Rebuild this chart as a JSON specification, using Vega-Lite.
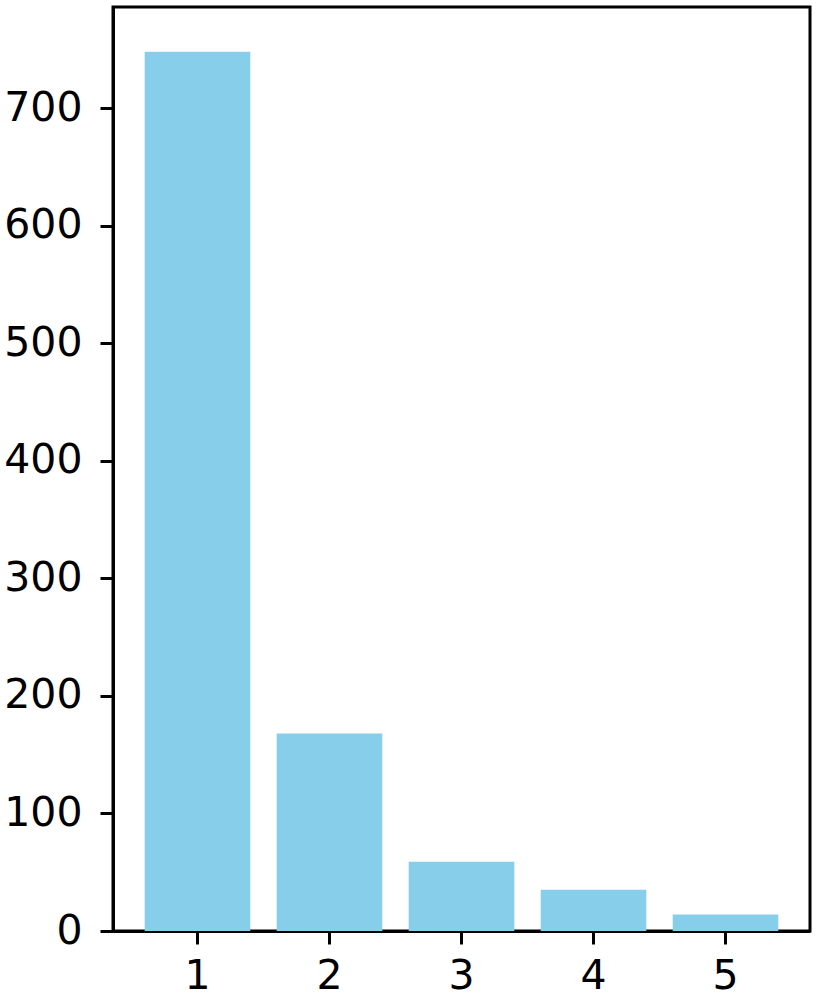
{
  "$schema": "https://vega.github.io/schema/vega-lite/v6.json",
  "width": 697,
  "height": 924,
  "autosize": {"type": "none"},
  "padding": {"left": 113, "top": 7, "right": 7, "bottom": 71},
  "background": "white",
  "config": {
    "view": {"stroke": "black", "strokeWidth": 3},
    "axis": {
      "domainColor": "black", "domainWidth": 3,
      "tickColor": "black", "tickWidth": 3, "tickSize": 13,
      "labelFont": "DejaVu Sans", "labelFontSize": 41, "labelColor": "black",
      "grid": false, "title": null
    }
  },
  "data": {"values": [
    {"category": "1", "count": 748},
    {"category": "2", "count": 168},
    {"category": "3", "count": 59},
    {"category": "4", "count": 35},
    {"category": "5", "count": 14}
  ]},
  "mark": {"type": "bar", "color": "#87CEEB"},
  "encoding": {
    "x": {"field": "category", "type": "ordinal", "sort": null,
      "scale": {"paddingInner": 0.2, "paddingOuter": 0.24},
      "axis": {"labelAngle": 0, "labelPadding": 12}},
    "y": {"field": "count", "type": "quantitative",
      "scale": {"domain": [0, 786], "nice": false},
      "axis": {"values": [0, 100, 200, 300, 400, 500, 600, 700], "labelPadding": 18}}
  }
}
